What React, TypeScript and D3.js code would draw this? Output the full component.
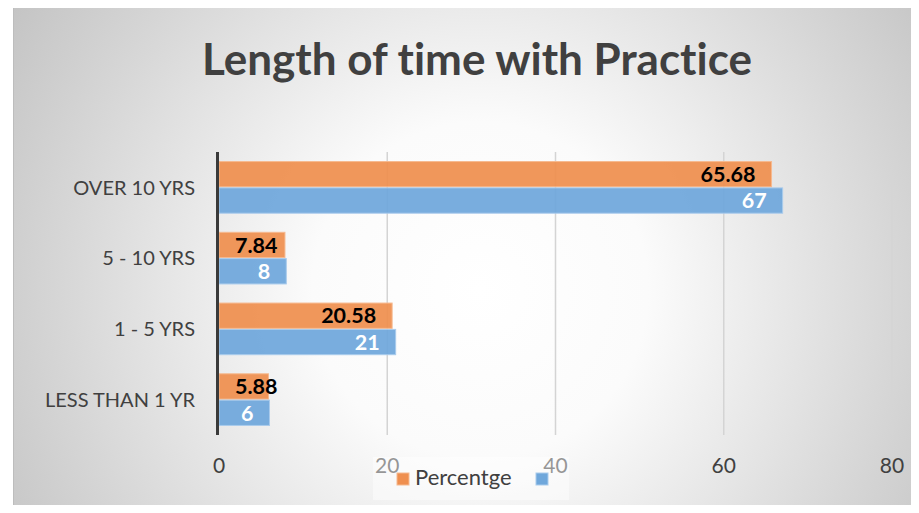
import * as d3 from 'd3';
import { useEffect, useRef } from 'react';

const categories = ['OVER 10 YRS', '5 - 10 YRS', '1 - 5 YRS', 'LESS THAN 1 YR'];
const percentValues = [65.68, 7.84, 20.58, 5.88];
const countValues = [67, 8, 21, 6];
const seriesNames = ['Percentge', ''];
const xTicks = [0, 20, 40, 60, 80];

const colors = {
  orange: '#ef8f4f',
  orangeEdge: '#f6b98f',
  blue: '#6fa7db',
  blueEdge: '#a9cbec',
  text: '#404040',
  grid: '#d4d4d4',
};

const font = 'Lato, "Open Sans", sans-serif';

export default function App() {
  const svgRef = useRef<SVGSVGElement>(null);

  useEffect(() => {
    const svgEl = svgRef.current;
    if (!svgEl) return;

    const width = 919;
    const height = 513;
    const svg = d3.select(svgEl);
    svg.selectAll('*').remove();
    svg.style('font-variant-ligatures', 'none');

    const defs = svg.append('defs');
    const grad = defs
      .append('radialGradient')
      .attr('id', 'bg')
      .attr('gradientUnits', 'userSpaceOnUse')
      .attr('cx', 480)
      .attr('cy', 290)
      .attr('r', 560);
    grad.append('stop').attr('offset', 0).attr('stop-color', '#ffffff');
    grad.append('stop').attr('offset', 0.3).attr('stop-color', '#fbfbfb');
    grad.append('stop').attr('offset', 0.75).attr('stop-color', '#d6d6d6');
    grad.append('stop').attr('offset', 1).attr('stop-color', '#c2c2c2');

    // chart background
    svg
      .append('rect')
      .attr('x', 13.5)
      .attr('y', 6.5)
      .attr('width', width)
      .attr('height', height)
      .attr('fill', 'url(#bg)')
      .attr('stroke', '#bdbdbd')
      .attr('stroke-width', 1);

    const rows = categories.map((c, i) => ({
      category: c,
      values: [percentValues[i], countValues[i]],
    }));

    const x = d3.scaleLinear().domain([0, 80]).range([219, 892]);
    const y = d3
      .scaleBand<string>()
      .domain(categories)
      .range([152, 435])
      .paddingInner(0.27)
      .paddingOuter(0.135);
    const sub = d3
      .scaleBand<number>()
      .domain([0, 1])
      .range([0, y.bandwidth()])
      .paddingInner(0.04);

    // gridlines
    svg
      .append('g')
      .selectAll('line')
      .data(xTicks.slice(1))
      .join('line')
      .attr('x1', (d) => x(d))
      .attr('x2', (d) => x(d))
      .attr('y1', 152)
      .attr('y2', 435)
      .attr('stroke', colors.grid)
      .attr('stroke-width', 1.5);

    // title
    svg
      .append('text')
      .attr('x', 477)
      .attr('y', 75)
      .attr('text-anchor', 'middle')
      .attr('font-family', font)
      .attr('font-weight', 700)
      .attr('font-size', 44)
      .attr('fill', colors.text)
      .text('Length of time with Practice');

    // bars
    const groups = svg
      .append('g')
      .selectAll('g')
      .data(rows)
      .join('g')
      .attr('transform', (d) => `translate(0,${y(d.category)})`);

    groups
      .selectAll('rect')
      .data((d) => d.values.map((v, j) => ({ v, j })))
      .join('rect')
      .attr('x', x(0))
      .attr('y', (d) => sub(d.j)!)
      .attr('width', (d) => x(d.v) - x(0))
      .attr('height', sub.bandwidth())
      .attr('fill', (d) => (d.j === 0 ? colors.orange : colors.blue))
      .attr('fill-opacity', 0.93)
      .attr('stroke', (d) => (d.j === 0 ? colors.orangeEdge : colors.blueEdge))
      .attr('stroke-width', 1);

    // data labels (inside end, clamped near the axis)
    groups
      .selectAll('text')
      .data((d) => d.values.map((v, j) => ({ v, j })))
      .join('text')
      .attr('y', (d) => sub(d.j)! + sub.bandwidth() / 2)
      .attr('dy', '0.36em')
      .attr('font-family', font)
      .attr('font-weight', 700)
      .attr('font-size', 21.5)
      .attr('fill', (d) => (d.j === 0 ? '#000000' : '#ffffff'))
      .text((d) => String(d.v))
      .each(function (d) {
        const el = this as SVGTextElement;
        const w = el.getComputedTextLength();
        const right = Math.max(x(d.v) - 16, x(0) + 16 + w);
        el.setAttribute('x', String(right - w));
      });

    // category labels
    svg
      .append('g')
      .selectAll('text')
      .data(categories)
      .join('text')
      .attr('x', 195)
      .attr('y', (d) => y(d)! + y.bandwidth() / 2)
      .attr('dy', '0.36em')
      .attr('text-anchor', 'end')
      .attr('font-family', font)
      .attr('font-size', 20)
      .attr('fill', colors.text)
      .text((d) => d);

    // value axis line
    svg
      .append('line')
      .attr('x1', 217.5)
      .attr('x2', 217.5)
      .attr('y1', 152)
      .attr('y2', 435)
      .attr('stroke', '#3a3a3a')
      .attr('stroke-width', 3);

    // tick labels
    svg
      .append('g')
      .selectAll('text')
      .data(xTicks)
      .join('text')
      .attr('x', (d) => x(d))
      .attr('y', 473)
      .attr('text-anchor', 'middle')
      .attr('font-family', font)
      .attr('font-size', 21)
      .attr('fill', colors.text)
      .text((d) => d);

    // legend
    const legend = svg.append('g');
    legend
      .append('rect')
      .attr('x', 373)
      .attr('y', 457)
      .attr('width', 196)
      .attr('height', 43)
      .attr('fill', '#ffffff')
      .attr('fill-opacity', 0.45);
    const legendItems = [
      { name: seriesNames[0], color: colors.orange, edge: colors.orangeEdge, x: 397 },
      { name: seriesNames[1], color: colors.blue, edge: colors.blueEdge, x: 536 },
    ];
    legendItems.forEach((it) => {
      legend
        .append('rect')
        .attr('x', it.x)
        .attr('y', 473)
        .attr('width', 12)
        .attr('height', 12)
        .attr('fill', it.color)
        .attr('stroke', it.edge);
      legend
        .append('text')
        .attr('x', it.x + 18)
        .attr('y', 485)
        .attr('font-family', font)
        .attr('font-size', 22)
        .attr('fill', colors.text)
        .text(it.name);
    });
  }, []);

  return (
    <div style={{ width: 919, height: 513, margin: -8, overflow: 'hidden' }}>
      <svg ref={svgRef} width={919} height={513} role="img" aria-label="Length of time with Practice" />
    </div>
  );
}
